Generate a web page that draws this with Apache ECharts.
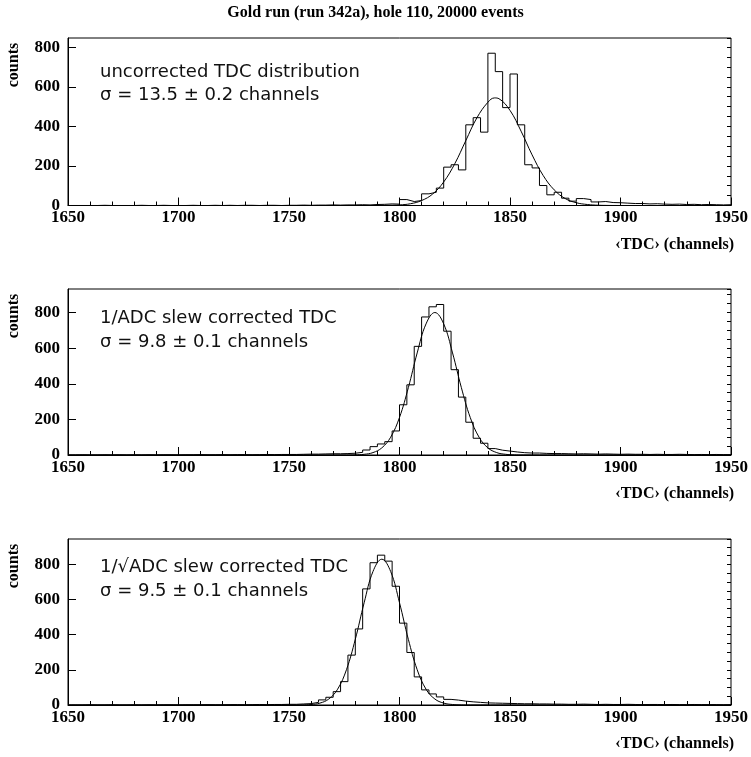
<!DOCTYPE html>
<html><head><meta charset="utf-8">
<script src="https://cdn.jsdelivr.net/npm/echarts@6/dist/echarts.min.js"></script>
<style>html,body{margin:0;padding:0;background:#fff}#c{width:751px;height:757px}</style>
</head><body><div id="c"></div>
<script>
// ---- data ----
const X_MIN = 1650, X_MAX = 1950, N_BINS = 90;

const titleText = 'Gold run (run 342a), hole 110, 20000 events';
const xAxisName = '\u2039TDC\u203A (channels)';
const yAxisName = 'counts';

const countsUncorrected = [
  0,0,0,0,1,0,0,0,0,1,
  0,0,1,0,0,0,1,0,0,1,
  0,1,0,1,1,0,1,1,0,1,
  1,2,1,2,2,3,2,3,3,
  4,3,5,6,8,7,
  30,20,25,59,67,88,194,206,180,408,444,371,770,677,495,665,408,206,190,101,54,67,37,22,35,30,18,20,
  15,14,12,10,10,8,9,7,6,7,5,6,4,5,4,3,4
];
const countsInvADC = [
  0,1,0,0,1,0,1,0,1,0,
  1,0,1,1,0,1,1,2,1,1,
  2,1,2,2,1,2,3,2,3,3,
  3,4,5,5,6,7,7,8,10,
  15,28,47,62,75,135,282,394,610,775,832,845,695,479,325,184,94,66,36,27,22,17,
  13,11,11,9,8,8,7,6,7,6,5,6,5,4,5,4,4,3,4,3,3,4,3,2,3,2,3,2,2
];
const countsInvSqrtADC = [
  0,0,1,0,0,1,0,0,1,0,
  1,0,1,1,0,1,1,1,2,1,
  1,2,2,1,2,3,2,3,3,4,
  4,6,8,15,29,44,76,133,284,433,661,810,853,819,676,466,299,160,86,63,46,32,28,22,
  18,15,12,11,10,9,8,7,7,6,6,5,5,4,4,5,4,3,4,3,3,4,3,2,3,3,2,3,2,2,3,2,2,2,1,2
];

const fit1X = [1650,1785,1790,1795,1800,1805,1810,1815,1820,1825,1830,1835,1840,1843,1845,1850,1855,1860,1865,1870,1875,1880,1885,1890,1895,1900,1950];
const fit1Y = [0,0.05,0.2,1,3,9,25,58,119,211,328,443,522,544,540,481,376,256,152,79,35,14,5,1.4,0.3,0.05,0];
const fit2X = [1650,1776,1780,1784,1788,1792,1796,1800,1804,1808,1812,1816,1820,1824,1828,1832,1836,1840,1844,1848,1852,1856,1950];
const fit2Y = [0,0.2,0.9,3.9,13.5,40,100,211,378,573,736,800,736,573,378,211,100,40,13.5,3.9,0.9,0.2,0];
const fit3X = [1650,1752,1756,1760,1764,1768,1772,1776,1780,1784,1788,1792,1796,1800,1804,1808,1812,1816,1820,1824,1828,1832,1950];
const fit3Y = [0,0.1,0.6,2.9,10.8,34,90,201,374,582,760,830,760,582,374,201,90,34,10.8,2.9,0.6,0.1,0];

const labels1 = ['uncorrected TDC distribution', '\u03C3 = 13.5 \u00B1 0.2 channels'];
const labels2 = ['1/ADC slew corrected TDC', '\u03C3 = 9.8 \u00B1 0.1 channels'];
const labels3 = ['1/\u221AADC slew corrected TDC', '\u03C3 = 9.5 \u00B1 0.1 channels'];

const yMaxes = [847, 932, 945];

// ---- layout ----
const panels = [
  {counts: countsUncorrected, fx: fit1X, fy: fit1Y, yMax: yMaxes[0], top: 38, height: 167.5, labels: labels1, ly: [72, 95]},
  {counts: countsInvADC, fx: fit2X, fy: fit2Y, yMax: yMaxes[1], top: 289, height: 166, labels: labels2, ly: [318, 342]},
  {counts: countsInvSqrtADC, fx: fit3X, fy: fit3Y, yMax: yMaxes[2], top: 539, height: 166, labels: labels3, ly: [567, 591]}
];
const LEFT = 68, WIDTH = 666;
const serif = 'Liberation Serif';
const black = '#000';

function histData(counts) {
  const w = (X_MAX - X_MIN) / N_BINS;
  const d = counts.map((v, i) => [X_MIN + i * w, v]);
  d.push([X_MAX, counts[counts.length - 1]]);
  return d;
}

const grid = [], xAxis = [], yAxis = [], series = [], graphic = [];
graphic.push({type: 'text', left: 'center', top: 5,
  style: {text: titleText, font: 'bold 16px "Liberation Serif"', fill: black}});

panels.forEach((p, i) => {
  grid.push({left: LEFT, width: WIDTH, top: p.top, height: p.height, show: true,
    borderColor: black, borderWidth: 1, backgroundColor: 'transparent'});
  xAxis.push({type: 'value', gridIndex: i, min: X_MIN, max: X_MAX, interval: 50,
    axisLine: {show: true, lineStyle: {color: black, width: 1}},
    axisTick: {show: true, inside: true, length: 8, lineStyle: {color: black, width: 1}},
    minorTick: {show: true, splitNumber: 5, length: 4, lineStyle: {color: black, width: 1}},
    axisLabel: {color: black, fontFamily: serif, fontWeight: 'bold', fontSize: 17, margin: 4,
      formatter: v => String(v)},
    splitLine: {show: false}, minorSplitLine: {show: false}});
  yAxis.push({type: 'value', gridIndex: i, min: 0, max: p.yMax, interval: 200,
    axisLine: {show: true, lineStyle: {color: black, width: 1}},
    axisTick: {show: true, inside: true, length: 8, lineStyle: {color: black, width: 1}},
    axisLabel: {color: black, fontFamily: serif, fontWeight: 'bold', fontSize: 17, margin: 8, showMaxLabel: false,
      formatter: v => String(v)},
    splitLine: {show: false}});
  yAxis.push({type: 'value', gridIndex: i, min: 0, max: p.yMax, interval: 50,
    axisLine: {show: false},
    axisTick: {show: true, inside: true, length: 4, lineStyle: {color: black, width: 1}},
    axisLabel: {show: false}, splitLine: {show: false}});
  series.push({type: 'line', xAxisIndex: i, yAxisIndex: 2 * i, step: 'end', showSymbol: false,
    data: histData(p.counts), lineStyle: {color: black, width: 1}, animation: false, silent: true});
  series.push({type: 'line', xAxisIndex: i, yAxisIndex: 2 * i, smooth: 0.4, showSymbol: false,
    data: p.fx.map((x, j) => [x, p.fy[j]]), lineStyle: {color: black, width: 1}, animation: false, silent: true});

  graphic.push({type: 'text', x: 14, y: p.top + 27, rotation: Math.PI / 2,
    style: {text: yAxisName, font: 'bold 16px "Liberation Serif"', fill: black, align: 'center', verticalAlign: 'middle'}});
  graphic.push({type: 'text', x: LEFT + WIDTH, y: p.top + p.height + 39,
    style: {text: xAxisName, font: 'bold 16px "Liberation Serif"', fill: black, align: 'right', verticalAlign: 'middle'}});
  p.labels.forEach((t, j) => {
    graphic.push({type: 'text', x: 100, y: p.ly[j],
      style: {text: t, font: '18px "DejaVu Sans"', fill: '#111', align: 'left', verticalAlign: 'middle'}});
  });
});

const chart = echarts.init(document.getElementById('c'), null, {renderer: 'canvas'});
chart.setOption({animation: false, backgroundColor: '#fff', grid, xAxis, yAxis, series, graphic});
</script></body></html>
